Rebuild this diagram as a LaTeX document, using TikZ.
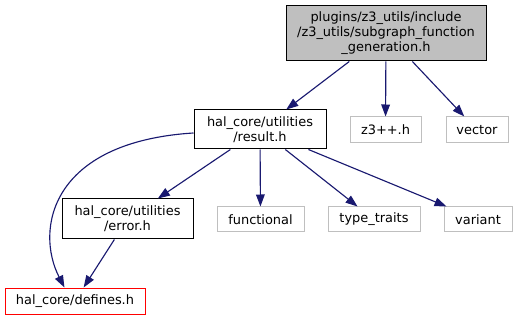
\documentclass[tikz,border=0pt]{standalone}
\usepackage{fontspec}
\setmainfont{DejaVu Sans}
\usepackage{tikz}
\usetikzlibrary{arrows.meta, positioning}
\definecolor{edgeblue}{RGB}{25, 25, 112}
\definecolor{sysgray}{RGB}{191, 191, 191}

\begin{document}
\begin{tikzpicture}[x=0.75pt, y=-0.75pt,
          fileNode/.style={rectangle, draw=black, line width=0.75pt, inner sep=0pt, align=center, font=\fontsize{9.7}{11.25}\selectfont},
          topNode/.style={fileNode, fill=sysgray},
          sysNode/.style={fileNode, draw=sysgray},
          missingNode/.style={fileNode, draw=red},
          flow/.style={-{Triangle[length=9pt, width=6.5pt]}, line width=0.85pt, draw=edgeblue}
        ]
          \useasboundingbox (0,0) rectangle (517,320);
          \node[topNode, minimum width=150pt, minimum height=41.25pt] (sub) at (386, 33.5) {plugins/z3\_utils/include\\/z3\_utils/subgraph\_function\\\_generation.h};
          \node[fileNode, minimum width=99pt, minimum height=29.25pt] (result) at (260, 129.5) {hal\_core/utilities\\/result.h};
          \node[sysNode, minimum width=53.25pt, minimum height=19.5pt] (zthree) at (385.5, 130) {z3++.h};
          \node[sysNode, minimum width=46.5pt, minimum height=19.5pt] (vector) at (477, 130) {vector};
          \node[fileNode, minimum width=98.25pt, minimum height=30pt] (error) at (127.5, 219) {hal\_core/utilities\\/error.h};
          \node[sysNode, minimum width=65.25pt, minimum height=18.75pt] (functional) at (260.5, 219.5) {functional};
          \node[sysNode, minimum width=69pt, minimum height=18.75pt] (traits) at (374, 219.5) {type\_traits};
          \node[sysNode, minimum width=51pt, minimum height=18.75pt] (variant) at (478, 219.5) {variant};
          \node[missingNode, minimum width=105pt, minimum height=19.5pt] (defines) at (75, 301) {hal\_core/defines.h};

          \draw[flow] (sub) -- (result);
          \draw[flow] (sub) -- (zthree);
          \draw[flow] (sub) -- (vector);
          \draw[flow] (result.183) .. controls (50, 142) and (35, 230) .. (defines.128);
          \draw[flow] (result) -- (error);
          \draw[flow] (result) -- (functional);
          \draw[flow] (result) -- (traits);
          \draw[flow] (result) -- (variant);
          \draw[flow] (error) -- (defines);
        \end{tikzpicture}
\end{document}
